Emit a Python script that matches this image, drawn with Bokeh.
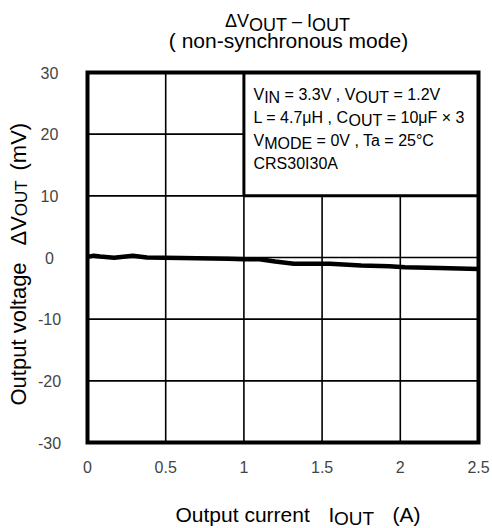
import math
from bokeh.plotting import figure
from bokeh.models import Range1d, Label
from bokeh.embed import file_html
from bokeh.resources import INLINE

# ---------------- data ----------------
current_a = [0.0, 0.04, 0.08, 0.17, 0.29, 0.38, 0.6, 0.9, 1.0, 1.1, 1.2, 1.32,
             1.55, 1.75, 1.93, 2.03, 2.25, 2.5]
dvout_mv = [0.1, 0.3, 0.15, -0.05, 0.3, 0.0, -0.1, -0.2, -0.3, -0.3, -0.65, -1.0,
            -1.0, -1.3, -1.4, -1.6, -1.7, -1.85]

x_ticks = [0, 0.5, 1, 1.5, 2, 2.5]
x_tick_labels = ["0", "0.5", "1", "1.5", "2", "2.5"]
y_ticks = [-30, -20, -10, 0, 10, 20, 30]
y_tick_labels = ["-30", "-20", "-10", "0", "10", "20", "30"]

x_lo, x_hi = 0.0, 2.5
y_lo, y_hi = -30.0, 30.0
cond_box = dict(left=1.0, right=2.5, bottom=10, top=30)

FONT = "Liberation Sans"

# ---------------- layout (canvas pixels) ----------------
W_FIG, H_FIG = 492, 528
FX0, FX1 = 87, 478      # chart frame left / right
FY0, FY1 = 72, 442      # chart frame top / bottom
sx = (FX1 - FX0) / (x_hi - x_lo)
sy = (FY1 - FY0) / (y_hi - y_lo)
BASE_FIX = 6.0          # renderer places alphabetic baseline slightly low
ROT_FIX = 8.0

p = figure(width=W_FIG, height=H_FIG, output_backend="svg", toolbar_location=None,
           x_range=Range1d(x_lo - FX0 / sx, x_hi + (W_FIG - FX1) / sx),
           y_range=Range1d(y_lo - (H_FIG - FY1) / sy, y_hi + FY0 / sy),
           min_border=0)
p.xaxis.visible = False
p.yaxis.visible = False
p.xgrid.visible = False
p.ygrid.visible = False
p.outline_line_color = None
p.background_fill_color = "white"
p.border_fill_color = "white"

# grid lines
gx = [t for t in x_ticks if x_lo < t < x_hi]
gy = [t for t in y_ticks if y_lo < t < y_hi]
p.segment(x0=gx, x1=gx, y0=[y_lo] * len(gx), y1=[y_hi] * len(gx),
          line_color="black", line_width=1.6)
p.segment(x0=[x_lo] * len(gy), x1=[x_hi] * len(gy), y0=gy, y1=gy,
          line_color="black", line_width=1.6)

# data
p.line(current_a, dvout_mv, line_color="black", line_width=4.5, line_join="round")

# condition box
p.quad(left=[cond_box["left"]], right=[cond_box["right"]],
       bottom=[cond_box["bottom"]], top=[cond_box["top"]],
       fill_color="white", line_color="black", line_width=3)

# chart border
p.quad(left=[x_lo], right=[x_hi], bottom=[y_lo], top=[y_hi],
       fill_color=None, line_color="black", line_width=4, line_join="miter")

# Arial / Liberation Sans advance widths (per 1000 em)
WID = {' ': 278, '=': 584, '.': 278, ',': 278, 'V': 667, 'I': 278, 'N': 722,
       'O': 778, 'U': 722, 'T': 611, 'L': 556, 'H': 722, 'C': 722, 'F': 611,
       'M': 833, 'D': 722, 'E': 667, 'a': 556, '°': 400, 'μ': 576, '×': 584,
       '–': 556, 'Δ': 667, 'R': 722, 'S': 667, 'A': 667, 'm': 833, '(': 333,
       ')': 333, 'u': 556, 't': 278, 'p': 556, 'c': 500, 'r': 333, 'e': 556,
       'n': 556, 'v': 500, 'o': 556, 'l': 222, 'g': 556}


def tw(s, size):
    return sum(WID.get(c, 556) for c in s) * size / 1000.0


def lab(px, py, text, size, align="left", angle=0.0):
    if angle:
        px -= ROT_FIX
    else:
        py -= BASE_FIX
    p.add_layout(Label(x=x_lo, y=y_hi, x_units="data", y_units="data",
                       x_offset=px - FX0, y_offset=FY0 - py, text=text,
                       text_font=FONT, text_font_size=f"{size}px",
                       text_color="black", text_align=align,
                       text_baseline="alphabetic", angle=angle))


def segs_h(segs, x0, base, size, drop):
    x = x0
    for text, sub in segs:
        lead = len(text) - len(text.lstrip(" "))
        x += tw(" " * lead, size)
        body = text.lstrip(" ")
        if body.strip():
            lab(x, base + (drop if sub else 0), body.rstrip(" "), size)
        x += tw(body, size)


def segs_v(segs, y0, xbase, size, drop, sub_size=None):
    y = y0
    for text, sub in segs:
        s = (sub_size or size) if sub else size
        lab(xbase + (drop if sub else 0), y, text, s, angle=math.pi / 2)
        y -= tw(text, s)


# ---------------- title ----------------
t1 = [("ΔV", 0), ("OUT", 1), (" – I", 0), ("OUT", 1)]
t1w = sum(tw(t, 18) for t, _ in t1)
segs_h(t1, 287 - t1w / 2, 26, 18, 4.5)
lab(288, 46, "( non-synchronous mode)", 21, align="center")

# ---------------- condition box text ----------------
segs_h([("V", 0), ("IN", 1), (" = 3.3V , V", 0), ("OUT", 1), (" = 1.2V", 0)], 253, 99.5, 16, 3.5)
segs_h([("L = 4.7μH , C", 0), ("OUT", 1), (" = 10μF × 3", 0)], 253, 122.5, 16, 3.5)
segs_h([("V", 0), ("MODE", 1), (" = 0V , Ta = 25°C", 0)], 253, 145.5, 16, 3.5)
segs_h([("CRS30I30A", 0)], 253, 168.5, 16, 3.5)

# ---------------- tick labels ----------------
for v, t in zip(y_ticks, y_tick_labels):
    p.add_layout(Label(x=x_lo, y=v, x_units="data", y_units="data", x_offset=49 - FX0,
                       y_offset=0, text=t, text_font=FONT, text_font_size="16px",
                       text_align="center", text_baseline="middle"))
for v, t in zip(x_ticks, x_tick_labels):
    p.add_layout(Label(x=v, y=y_lo, x_units="data", y_units="data", x_offset=0,
                       y_offset=-24, text=t, text_font=FONT, text_font_size="16px",
                       text_align="center", text_baseline="middle"))

# ---------------- axis titles ----------------
lab(175, 520, "Output current", 21)
lab(328, 520, "I", 21)
lab(333.5, 523.5, "OUT", 19)
lab(392, 520, "(A)", 21)

segs_v([("Output voltage", 0)], 405, 25.5, 22, 3.5)
segs_v([("ΔV", 0), ("OUT", 1)], 245, 25.5, 22, 3.5, sub_size=17)
segs_v([("(mV)", 0)], 170, 25.5, 22, 3.5)

open("out.html", "w").write(file_html(p, INLINE))
